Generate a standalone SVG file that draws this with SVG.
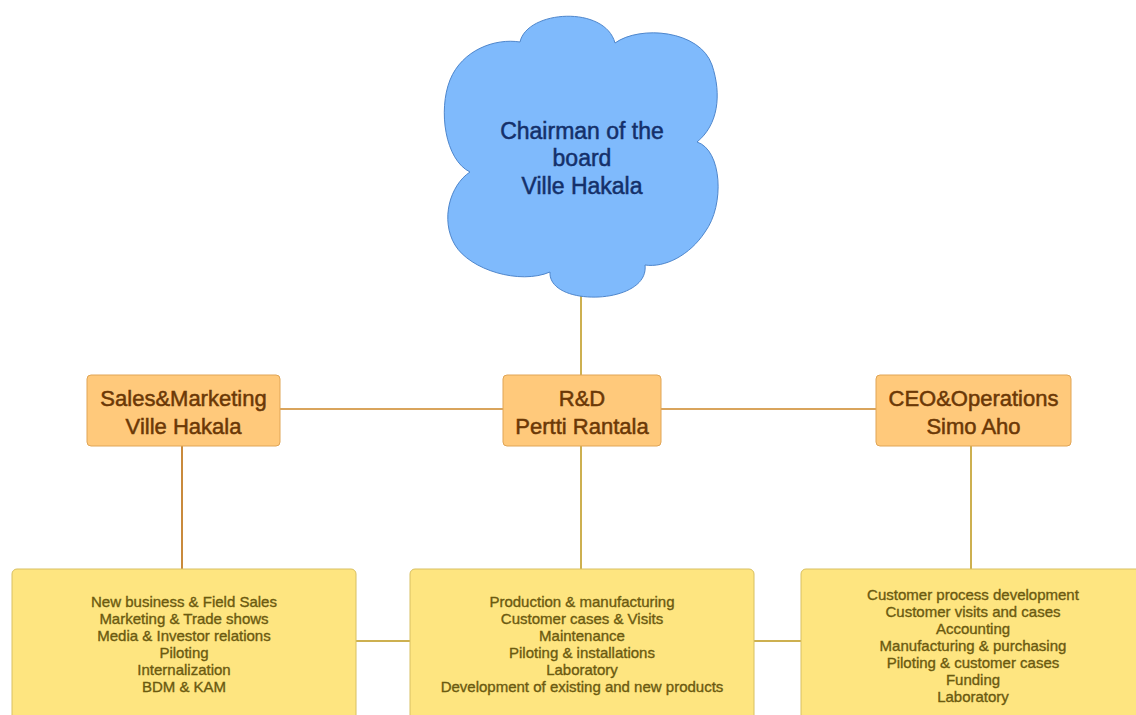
<svg xmlns="http://www.w3.org/2000/svg" width="1136" height="715" viewBox="0 0 1136 715">
<style>
.cloud{fill:#7fbafc;stroke:#4e86cc;stroke-width:1}
.ctext{font-family:"Liberation Sans",Arial,sans-serif;font-size:23px;fill:#14306a;stroke:#14306a;stroke-width:0.5;text-anchor:middle}
.obox{fill:#ffc97b;stroke:#e0a556;stroke-width:1}
.otext{font-family:"Liberation Sans",Arial,sans-serif;font-size:22px;fill:#6b3806;stroke:#6b3806;stroke-width:0.5;text-anchor:middle}
.ybox{fill:#fee580;stroke:#d8c062;stroke-width:1}
.ytext{font-family:"Liberation Sans",Arial,sans-serif;font-size:15px;fill:#6b5a10;stroke:#6b5a10;stroke-width:0.35;text-anchor:middle}
.lh{stroke:#d9a45c;stroke-width:2;fill:none}
.lv{stroke:#cdb050;stroke-width:2;fill:none}
.lvo{stroke:#c98a3c;stroke-width:2;fill:none}
</style>
<rect width="1136" height="715" fill="#ffffff"/>
<g id="connectors">
<line class="lv" x1="581" y1="296" x2="581" y2="375"/>
<line class="lh" x1="280" y1="409" x2="503" y2="409"/>
<line class="lh" x1="661" y1="409" x2="876" y2="409"/>
<line class="lvo" x1="182" y1="446" x2="182" y2="569"/>
<line class="lv" x1="581" y1="446" x2="581" y2="569"/>
<line class="lv" x1="971" y1="446" x2="971" y2="569"/>
<line class="lv" x1="356" y1="641" x2="410" y2="641"/>
<line class="lv" x1="754" y1="641" x2="801" y2="641"/>
</g>
<g id="chairman">
<path class="cloud" d="M520,42 C527,10 605,5 615,43 C640,25 700,30 712,65 C722,95 718,125 697,142 C722,150 725,205 705,232 C690,255 665,268 645,265 C650,305 548,308 550,272 C520,285 470,270 455,245 C440,220 450,185 470,172 C445,160 438,110 450,80 C462,50 495,38 520,42 Z"/>
<text class="ctext" x="582" y="139">Chairman of the</text>
<text class="ctext" x="582" y="166">board</text>
<text class="ctext" x="582" y="194">Ville Hakala</text>
</g>
<g id="sales">
<rect class="obox" x="87" y="375" width="193" height="71" rx="4"/>
<text class="otext" x="183.5" y="406">Sales&amp;Marketing</text>
<text class="otext" x="183.5" y="434">Ville Hakala</text>
</g>
<g id="rnd">
<rect class="obox" x="503" y="375" width="158" height="71" rx="4"/>
<text class="otext" x="582" y="406">R&amp;D</text>
<text class="otext" x="582" y="434">Pertti Rantala</text>
</g>
<g id="ceo">
<rect class="obox" x="876" y="375" width="195" height="71" rx="4"/>
<text class="otext" x="973.5" y="406">CEO&amp;Operations</text>
<text class="otext" x="973.5" y="434">Simo Aho</text>
</g>
<g id="sales-tasks">
<rect class="ybox" x="12" y="569" width="344" height="160" rx="5"/>
<text class="ytext" x="184" y="607">New business &amp; Field Sales</text>
<text class="ytext" x="184" y="624">Marketing &amp; Trade shows</text>
<text class="ytext" x="184" y="641">Media &amp; Investor relations</text>
<text class="ytext" x="184" y="658">Piloting</text>
<text class="ytext" x="184" y="675">Internalization</text>
<text class="ytext" x="184" y="692">BDM &amp; KAM</text>
</g>
<g id="rnd-tasks">
<rect class="ybox" x="410" y="569" width="344" height="160" rx="5"/>
<text class="ytext" x="582" y="607">Production &amp; manufacturing</text>
<text class="ytext" x="582" y="624">Customer cases &amp; Visits</text>
<text class="ytext" x="582" y="641">Maintenance</text>
<text class="ytext" x="582" y="658">Piloting &amp; installations</text>
<text class="ytext" x="582" y="675">Laboratory</text>
<text class="ytext" x="582" y="692">Development of existing and new products</text>
</g>
<g id="ceo-tasks">
<rect class="ybox" x="801" y="569" width="350" height="160" rx="5"/>
<text class="ytext" x="973" y="600">Customer process development</text>
<text class="ytext" x="973" y="617">Customer visits and cases</text>
<text class="ytext" x="973" y="634">Accounting</text>
<text class="ytext" x="973" y="651">Manufacturing &amp; purchasing</text>
<text class="ytext" x="973" y="668">Piloting &amp; customer cases</text>
<text class="ytext" x="973" y="685">Funding</text>
<text class="ytext" x="973" y="702">Laboratory</text>
</g>
</svg>
